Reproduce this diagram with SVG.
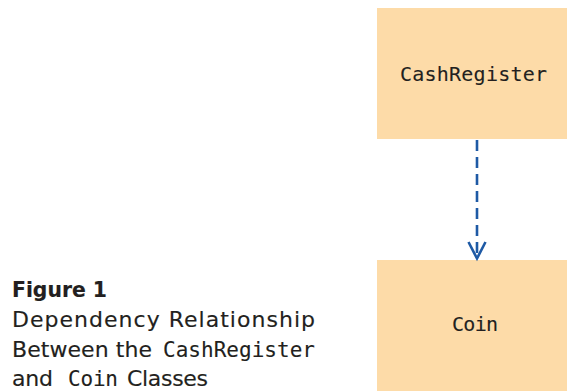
<svg xmlns="http://www.w3.org/2000/svg" width="567" height="391" viewBox="0 0 567 391">
  <style>
    .box { fill: #FDDBA8; }
    .mono { font-family: "DejaVu Sans Mono", "Liberation Mono", monospace; fill: #231F20; stroke: #231F20; stroke-width: 0.1; }
    .cap { font-family: "DejaVu Sans", "Noto Sans", sans-serif; fill: #231F20; stroke: #231F20; stroke-width: 0.15; font-size: 22px; }
    .conn { stroke: #1E5AA5; stroke-width: 2.6; fill: none; }
  </style>
  <rect width="567" height="391" fill="#ffffff"/>
  <g id="CashRegister">
    <rect class="box" x="377" y="8" width="190" height="131"/>
    <text class="mono" x="400" y="81" font-size="20" textLength="147" lengthAdjust="spacing">CashRegister</text>
  </g>
  <g id="Coin">
    <rect class="box" x="377" y="260" width="190" height="131"/>
    <text class="mono" x="452" y="331" font-size="20" textLength="46" lengthAdjust="spacing">Coin</text>
  </g>
  <g id="connectors">
    <line class="conn" x1="477" y1="140" x2="477" y2="257" stroke-dasharray="11 6"/>
    <polyline class="conn" points="468.5,242 477,258.5 485.5,242" stroke-linejoin="miter"/>
  </g>
  <g id="caption">
    <text class="cap" x="12" y="297" font-weight="bold" textLength="95" lengthAdjust="spacingAndGlyphs">Figure 1</text>
    <text class="cap" x="12" y="327" textLength="303" lengthAdjust="spacing">Dependency Relationship</text>
    <text class="cap" x="12" y="357"><tspan textLength="140" lengthAdjust="spacing">Between the</tspan><tspan class="mono" x="163" font-size="21" textLength="152" lengthAdjust="spacing">CashRegister</tspan></text>
    <text class="cap" x="12" y="386"><tspan textLength="41" lengthAdjust="spacing">and</tspan><tspan class="mono" x="68" font-size="21" textLength="50" lengthAdjust="spacing">Coin</tspan><tspan x="127" textLength="81" lengthAdjust="spacing">Classes</tspan></text>
  </g>
</svg>
